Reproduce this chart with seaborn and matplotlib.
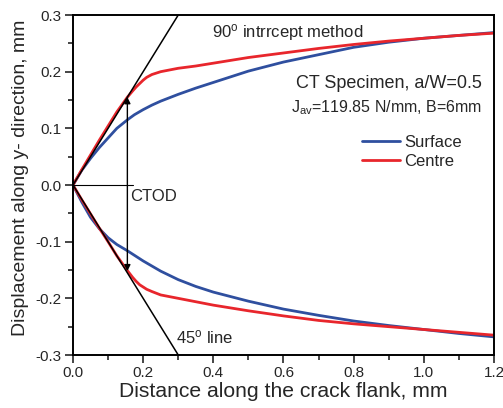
import numpy as np
import pandas as pd
import matplotlib
matplotlib.use("Agg")
import matplotlib.pyplot as plt
import seaborn as sns

# Distance along the crack flank (mm) for each branch
x_surface = [0, 0.025, 0.05, 0.075, 0.1, 0.125, 0.155, 0.175, 0.2, 0.225, 0.25, 0.3, 0.35,
             0.4, 0.45, 0.5, 0.6, 0.7, 0.8, 0.9, 1.0, 1.1, 1.2]
x_centre = [0, 0.025, 0.05, 0.075, 0.1, 0.125, 0.155, 0.17, 0.18, 0.19, 0.2, 0.21, 0.225,
            0.25, 0.275, 0.3, 0.35, 0.4, 0.5, 0.6, 0.7, 0.8, 0.9, 1.0, 1.1, 1.2]

# Flank displacement along y (mm): upper and lower flanks
surface_upper = [0, 0.026, 0.047, 0.066, 0.083, 0.1, 0.115, 0.124, 0.133, 0.141, 0.148,
                 0.16, 0.171, 0.181, 0.191, 0.201, 0.217, 0.23, 0.243, 0.252, 0.259,
                 0.264, 0.269]
surface_lower = [0, -0.03, -0.057, -0.077, -0.093, -0.105, -0.116, -0.124, -0.134, -0.143,
                 -0.152, -0.167, -0.179, -0.189, -0.197, -0.205, -0.219, -0.23, -0.24,
                 -0.248, -0.255, -0.262, -0.268]
centre_upper = [0, 0.027, 0.053, 0.079, 0.104, 0.129, 0.155, 0.166, 0.173, 0.179, 0.185,
                0.19, 0.195, 0.2, 0.203, 0.206, 0.21, 0.215, 0.225, 0.233, 0.241, 0.248,
                0.254, 0.259, 0.264, 0.268]
centre_lower = [0, -0.026, -0.051, -0.076, -0.1, -0.125, -0.151, -0.163, -0.17, -0.176,
                -0.18, -0.184, -0.188, -0.194, -0.197, -0.2, -0.206, -0.212, -0.222,
                -0.231, -0.239, -0.245, -0.25, -0.255, -0.26, -0.265]

series_names = ["Surface", "Centre"]
series_colors = ["#2f4f9f", "#e8262c"]

# 90-degree intercept construction
ctod_x = 0.155
ctod_upper = 0.155
ctod_lower = -0.152
line45_x = [0, 0.3]

frames = []
for name, xs, up, lo in [("Surface", x_surface, surface_upper, surface_lower),
                         ("Centre", x_centre, centre_upper, centre_lower)]:
    frames.append(pd.DataFrame({"x": xs, "y": up, "series": name, "branch": "upper"}))
    frames.append(pd.DataFrame({"x": xs, "y": lo, "series": name, "branch": "lower"}))
df = pd.concat(frames, ignore_index=True)

sns.set_style("ticks")
plt.rcParams["font.family"] = ["Liberation Sans", "DejaVu Sans"]
plt.rcParams["mathtext.fontset"] = "custom"
plt.rcParams["mathtext.rm"] = "Liberation Sans"
plt.rcParams["mathtext.it"] = "Liberation Sans:italic"

fig = plt.figure(figsize=(5.03, 4.08), dpi=100)
ax = fig.add_axes([0.1451, 0.1299, 0.837, 0.8333])

sns.lineplot(data=df, x="x", y="y", hue="series", units="branch", estimator=None,
             hue_order=series_names, palette=series_colors, linewidth=2, ax=ax,
             sort=True)

# 45-degree lines through the crack tip
ax.plot(line45_x, line45_x, color="black", lw=1.1)
ax.plot(line45_x, [-v for v in line45_x], color="black", lw=1.1)
ax.plot([0, 0.17], [0, 0], color="black", lw=0.8)
ax.annotate("", xy=(ctod_x, ctod_upper), xytext=(ctod_x, ctod_lower),
            arrowprops=dict(arrowstyle="<|-|>", color="black", lw=1,
                            mutation_scale=9, shrinkA=0, shrinkB=0))

ax.text(0.396, 0.27, "90$^{\\rm o}$ intrrcept method", fontsize=12, ha="left", va="center")
ax.text(1.166, 0.18, "CT Specimen, a/W=0.5", fontsize=13, ha="right", va="center")
ax.text(1.166, 0.136, "J$_{\\rm av}$=119.85 N/mm, B=6mm", fontsize=11.5, ha="right", va="center")
ax.text(0.162, -0.021, "CTOD", fontsize=12, ha="left", va="center")
ax.text(0.294, -0.268, "45$^{\\rm o}$ line", fontsize=12, ha="left", va="center")

ax.set_xlim(0, 1.2)
ax.set_ylim(-0.3, 0.3)
ax.set_xticks(np.arange(0, 1.21, 0.2))
ax.set_xticks(np.arange(0.1, 1.2, 0.2), minor=True)
ax.set_yticks(np.arange(-0.3, 0.31, 0.1))
ax.set_yticks(np.arange(-0.25, 0.3, 0.1), minor=True)
ax.xaxis.set_major_formatter(matplotlib.ticker.FormatStrFormatter("%.1f"))
ax.yaxis.set_major_formatter(matplotlib.ticker.FormatStrFormatter("%.1f"))
ax.tick_params(which="major", direction="out", length=6, width=1.2, labelsize=11, pad=2)
ax.tick_params(which="minor", direction="out", length=3.5, width=1.2)
for s in ax.spines.values():
    s.set_linewidth(1.4)
    s.set_color("black")

ax.set_xlabel("Distance along the crack flank, mm", fontsize=15.2, labelpad=1)
ax.set_ylabel("Displacement along y- direction, mm", fontsize=14)
ax.yaxis.set_label_coords(-0.104, 0.52)

ax.legend(loc="upper left", bbox_to_anchor=(0.6865, 0.648), frameon=False, fontsize=12,
          handlelength=2.3, handletextpad=0.25, labelspacing=0.25, borderpad=0,
          borderaxespad=0)

fig.savefig("out.png", dpi=100)
